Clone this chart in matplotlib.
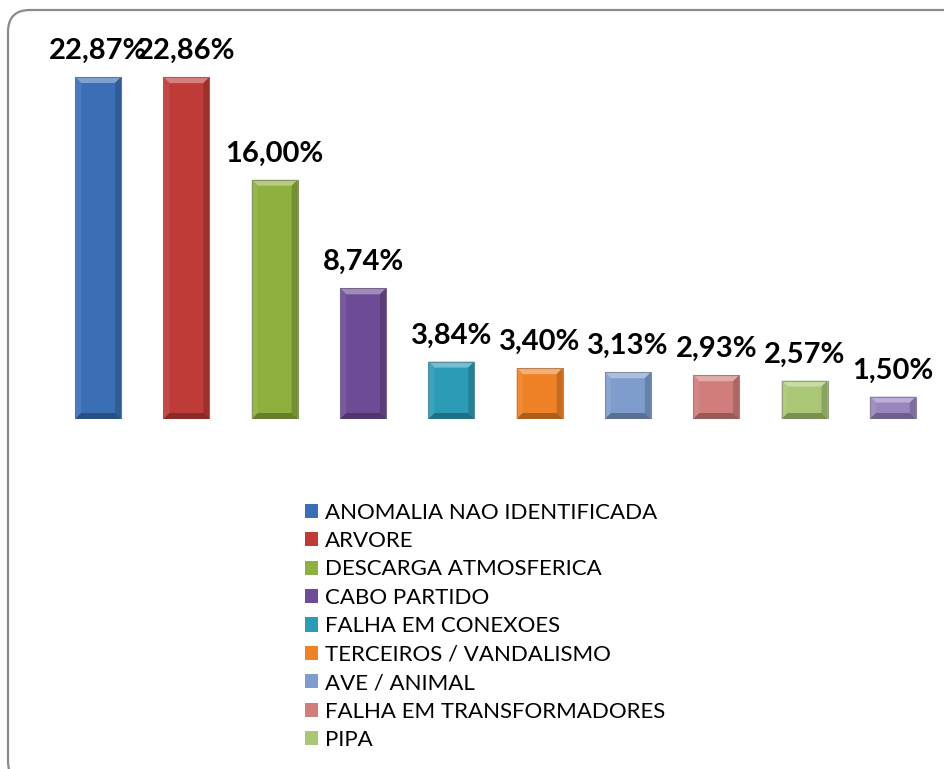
import numpy as np
import matplotlib
matplotlib.use("Agg")
import matplotlib.pyplot as plt
from matplotlib.colors import to_rgb
from matplotlib.patches import Polygon, FancyBboxPatch

# causas de desligamento (%)
categories = [
    "ANOMALIA NAO IDENTIFICADA",
    "ARVORE",
    "DESCARGA ATMOSFERICA",
    "CABO PARTIDO",
    "FALHA EM CONEXOES",
    "TERCEIROS / VANDALISMO",
    "AVE / ANIMAL",
    "FALHA EM TRANSFORMADORES",
    "PIPA",
    "OUTROS",
]
values = [22.87, 22.86, 16.00, 8.74, 3.84, 3.40, 3.13, 2.93, 2.57, 1.50]
value_labels = ["22,87%", "22,86%", "16,00%", "8,74%", "3,84%",
                "3,40%", "3,13%", "2,93%", "2,57%", "1,50%"]
colors = ["#3a6fb5", "#be3b37", "#8db03f", "#6e4c95", "#2c9cb6",
          "#ef8227", "#7f9dcc", "#d07d7b", "#aac775", "#9a86bf"]
n_legend = 9  # the last bar is not listed in the legend


def mix(c, other, t):
    c = np.array(to_rgb(c))
    return tuple(c * (1 - t) + np.array(other) * t)


fig = plt.figure(figsize=(9.44, 7.69), dpi=100)
W, H = 944, 769
ax = fig.add_axes([54 / W, 350 / H, 883 / W, 379 / H])

x = np.arange(len(values))
bars = ax.bar(x, values, width=0.52, color=colors, edgecolor="none", zorder=2)
ax.set_xlim(-0.5, len(values) - 0.5)
ymax = 22.87 * 379 / 342
ax.set_ylim(0, ymax)

# bevel look: lighter top/left, darker right/bottom
bx = 6 / 88.3
by = 6 * ymax / 379
for b, c in zip(bars, colors):
    x0, w, h = b.get_x(), b.get_width(), b.get_height()
    x1 = x0 + w
    dy = min(by, h / 3)
    faces = [
        ([(x0, h), (x1, h), (x1 - bx, h - dy), (x0 + bx, h - dy)], mix(c, (1, 1, 1), 0.35)),
        ([(x0, 0), (x0, h), (x0 + bx, h - dy), (x0 + bx, dy)], mix(c, (1, 1, 1), 0.08)),
        ([(x1, 0), (x1, h), (x1 - bx, h - dy), (x1 - bx, dy)], mix(c, (0, 0, 0), 0.18)),
        ([(x0, 0), (x1, 0), (x1 - bx, dy), (x0 + bx, dy)], mix(c, (0, 0, 0), 0.28)),
    ]
    for pts, fc in faces:
        ax.add_patch(Polygon(pts, closed=True, facecolor=fc, edgecolor="none", zorder=3))
    ax.add_patch(Polygon([(x0, 0), (x0, h), (x1, h), (x1, 0)], closed=True,
                         facecolor="none", edgecolor=mix(c, (0.5, 0.5, 0.5), 0.5),
                         linewidth=0.8, zorder=4))

for b, lab in zip(bars, value_labels):
    ax.annotate(lab, (b.get_x() + b.get_width() / 2, b.get_height()),
                xytext=(0, 13), textcoords="offset pixels",
                ha="center", va="bottom", fontsize=21, fontweight="bold",
                family=["Lato", "DejaVu Sans"], color="black")

for s in ax.spines.values():
    s.set_visible(False)
ax.set_xticks([])
ax.set_yticks([])

leg = fig.legend(bars[:n_legend], categories[:n_legend], loc="upper left",
                 bbox_to_anchor=(289 / W, 1 - 487 / H), frameon=False,
                 prop={"family": "Lato", "size": 16},
                 handlelength=0.6, handleheight=0.6, handletextpad=0.3,
                 labelspacing=0.38, borderpad=0.2)

frame = FancyBboxPatch((0.08, -0.14), 9.60, 7.73,
                       boxstyle="round,pad=0,rounding_size=0.22",
                       transform=fig.dpi_scale_trans, facecolor="none",
                       edgecolor="#8a8a8a", linewidth=1.6, zorder=10)
fig.patches.append(frame)

fig.savefig("out.png", dpi=100)
